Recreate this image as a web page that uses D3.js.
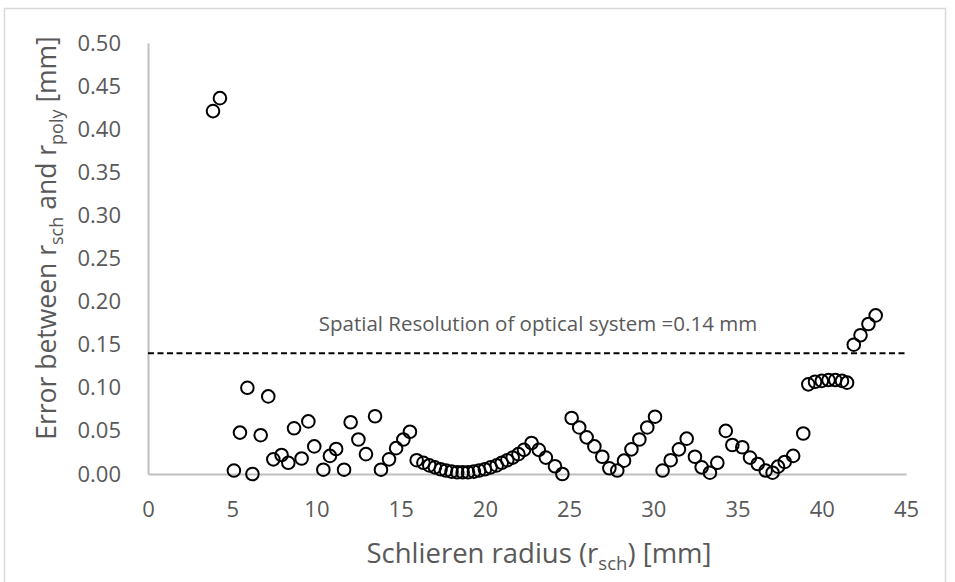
<!DOCTYPE html>
<html>
<head>
<meta charset="utf-8">
<script src="https://cdn.jsdelivr.net/npm/d3@7"></script>
<style>
  body { margin: 0; background: #fff; }
  svg text { font-family: "Open Sans", "Noto Sans", sans-serif; fill: #595959; }
</style>
</head>
<body>
<div id="chart"></div>
<script>
// values
const radius = [3.86, 4.27, 5.1, 5.46, 5.9, 6.2, 6.69, 7.14, 7.44, 7.93, 8.33, 8.67, 9.12, 9.52, 9.87,
    10.41, 10.8, 11.17, 11.64, 12.03, 12.49, 12.94, 13.48, 13.83, 14.31, 14.73, 15.16, 15.55, 15.95,
    16.35, 16.7, 17.03, 17.37, 17.69, 18.02, 18.36, 18.68, 19.0, 19.35, 19.66, 20.0, 20.34, 20.7, 21.0,
    21.33, 21.65, 21.99, 22.32, 22.77, 23.2, 23.62, 24.16, 24.6, 25.15, 25.6, 26.04, 26.5, 26.97, 27.39,
    27.86, 28.26, 28.7, 29.17, 29.64, 30.1, 30.55, 31.03, 31.52, 31.98, 32.47, 32.87, 33.36, 33.8, 34.3,
    34.69, 35.28, 35.74, 36.2, 36.67, 37.08, 37.4, 37.8, 38.3, 38.9, 39.2, 39.6, 40.0, 40.4, 40.8, 41.2,
    41.5, 41.9, 42.3, 42.77, 43.2];

const error = [0.421, 0.436, 0.004, 0.048, 0.100, 0.000, 0.045, 0.090, 0.017, 0.022, 0.013, 0.053, 0.018, 0.061, 0.032,
    0.005, 0.021, 0.029, 0.005, 0.060, 0.040, 0.023, 0.067, 0.005, 0.017, 0.030, 0.040, 0.049, 0.016,
    0.013, 0.010, 0.0077, 0.0055, 0.004, 0.0027, 0.002, 0.002, 0.002, 0.0027, 0.004, 0.0055, 0.0077, 0.010, 0.013,
    0.016, 0.019, 0.023, 0.028, 0.036, 0.028, 0.019, 0.009, 0.000, 0.065, 0.054, 0.0425, 0.032, 0.020, 0.0066,
    0.004, 0.0155, 0.0286, 0.040, 0.054, 0.0665, 0.004, 0.016, 0.0286, 0.041, 0.020, 0.0077, 0.0015, 0.013, 0.050,
    0.0336, 0.031, 0.019, 0.0116, 0.004, 0.0015, 0.0085, 0.014, 0.021, 0.047, 0.104, 0.107, 0.108, 0.109, 0.109, 0.108,
    0.106, 0.150, 0.161, 0.174, 0.184];

const xTicks = [0, 5, 10, 15, 20, 25, 30, 35, 40, 45];
const yTicks = [0, 0.05, 0.10, 0.15, 0.20, 0.25, 0.30, 0.35, 0.40, 0.45, 0.50];
const resolution = 0.14;
const resolutionLabel = "Spatial Resolution of optical system =0.14 mm";

const W = 955, H = 582;
const margin = { top: 43, right: 49, bottom: 108, left: 148 };

const svg = d3.select("#chart")
    .append("svg")
    .attr("width", W)
    .attr("height", H);

// chart area frame
svg.append("rect")
    .attr("x", 4.5)
    .attr("y", 8.5)
    .attr("width", 941)
    .attr("height", 600)
    .attr("fill", "#fff")
    .attr("stroke", "#d9d9d9")
    .attr("stroke-width", 1.5);

const x = d3.scaleLinear().domain([0, 45]).range([margin.left, W - margin.right]);
const y = d3.scaleLinear().domain([0, 0.5]).range([H - margin.bottom, margin.top]);

// Y axis
const yAxis = svg.append("g")
    .attr("transform", `translate(${margin.left},0)`)
    .call(d3.axisLeft(y).tickValues(yTicks).tickSize(0).tickPadding(27).tickFormat(d3.format(".2f")));
yAxis.select(".domain").attr("stroke", "#bfbfbf").attr("stroke-width", 2);
yAxis.selectAll("text").style("font-size", "22px").attr("fill", "#595959");

// X axis
const xAxis = svg.append("g")
    .attr("transform", `translate(0,${H - margin.bottom})`)
    .call(d3.axisBottom(x).tickValues(xTicks).tickSize(0).tickPadding(27));
xAxis.select(".domain").attr("stroke", "#bfbfbf").attr("stroke-width", 2);
xAxis.selectAll("text").style("font-size", "22px").attr("fill", "#595959");

// spatial resolution line
svg.append("line")
    .attr("x1", x(0))
    .attr("x2", x(45))
    .attr("y1", y(resolution))
    .attr("y2", y(resolution))
    .attr("stroke", "#000")
    .attr("stroke-width", 2)
    .attr("stroke-dasharray", "6,3.5");

svg.append("text")
    .attr("x", 538)
    .attr("y", 331)
    .attr("text-anchor", "middle")
    .style("font-size", "20.5px")
    .text(resolutionLabel);

// points
const points = radius.map((r, i) => ({ r: r, e: error[i] }));
svg.append("g")
    .selectAll("circle")
    .data(points)
    .join("circle")
    .attr("cx", d => x(d.r))
    .attr("cy", d => y(d.e))
    .attr("r", 6.3)
    .attr("fill", "none")
    .attr("stroke", "#000")
    .attr("stroke-width", 2);

// X axis title
const xt = svg.append("text")
    .attr("x", 539)
    .attr("y", 563)
    .attr("text-anchor", "middle")
    .style("font-size", "27.5px");
xt.append("tspan").text("Schlieren radius (r");
xt.append("tspan").attr("dy", 7).style("font-size", "18.5px").text("sch");
xt.append("tspan").attr("dy", -7).text(") [mm]");

// Y axis title
const yt = svg.append("text")
    .attr("transform", `translate(56,238) rotate(-90)`)
    .attr("text-anchor", "middle")
    .style("font-size", "26.5px");
yt.append("tspan").text("Error between r");
yt.append("tspan").attr("dy", 7).style("font-size", "18px").text("sch");
yt.append("tspan").attr("dy", -7).text(" and r");
yt.append("tspan").attr("dy", 7).style("font-size", "18px").text("poly");
yt.append("tspan").attr("dy", -7).text(" [mm]");
</script>
</body>
</html>
